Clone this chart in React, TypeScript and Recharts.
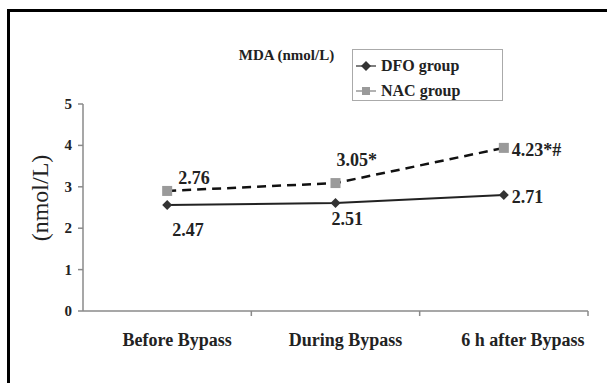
import React from 'react';
import { LineChart, Line, XAxis, YAxis, Legend } from 'recharts';

const categories = ['Before Bypass', 'During Bypass', '6 h after Bypass'];
const dfoValues = [2.56, 2.61, 2.8];
const nacValues = [2.9, 3.09, 3.94];
const dfoLabels = ['2.47', '2.51', '2.71'];
const nacLabels = ['2.76', '3.05*', '4.23*#'];
const yTicks = [0, 1, 2, 3, 4, 5];
const seriesNames = ['DFO group', 'NAC group'];
const chartTitle = 'MDA (nmol/L)';
const yAxisTitle = '(nmol/L)';

const data = categories.map((name, i) => ({ name, dfo: dfoValues[i], nac: nacValues[i] }));

const FONT = "'Liberation Serif', 'Times New Roman', Times, serif";
const AXIS = '#8a8a8a';
const DFO_COLOR = '#222';
const NAC_COLOR = '#111';
const NAC_MARK = '#9a9a9a';

const dfoOff = [[5, 31], [-4, 22], [8, 8]];
const nacOff = [[11, -7], [1, -17], [8, 8]];
const xLabelDx = [10, 10, 19];

const Diamond = ({ cx, cy, fill }: any) => (
  <path d={`M${cx},${cy - 5}L${cx + 5},${cy}L${cx},${cy + 5}L${cx - 5},${cy}Z`} fill={fill} />
);
const Square = ({ cx, cy, fill }: any) => (
  <rect x={cx - 5} y={cy - 5} width={10} height={10} fill={fill} />
);

const XTick = (props: any) => {
  const { x, y, payload, index, width, visibleTicksCount } = props;
  let off = payload && typeof payload.offset === 'number' && payload.offset > 0 ? payload.offset : 0;
  if (!off && width && visibleTicksCount) off = width / visibleTicksCount / 2;
  return (
    <g>
      <line x1={x + off} x2={x + off} y1={y} y2={y + 5} stroke={AXIS} strokeWidth={1.5} />
      <text x={x + xLabelDx[index]} y={y + 35} textAnchor="middle" style={{ fontFamily: FONT }} fontWeight="bold" fontSize={18} fill="#222">
        {payload.value}
      </text>
    </g>
  );
};

const YTick = (props: any) => {
  const { x, y, payload } = props;
  return (
    <text x={x} y={y} dy={5} textAnchor="end" style={{ fontFamily: FONT }} fontWeight="bold" fontSize={15} fill="#222">
      {payload.value}
    </text>
  );
};

const makeLabel = (labels: string[], offs: number[][]) => (props: any) => {
  const { x, y, index } = props;
  return (
    <text key={`l-${index}`} x={x + offs[index][0]} y={y + offs[index][1]} style={{ fontFamily: FONT }} fontWeight="bold" fontSize={18} fill="#222" textAnchor="start">
      {labels[index]}
    </text>
  );
};

const LegendBox = () => (
  <div style={{ position: 'relative', width: 151, height: 52, border: '1.5px solid #aaa', boxSizing: 'border-box', background: '#fff', fontFamily: FONT, fontWeight: 'bold', fontSize: 16, color: '#222' }}>
    {seriesNames.map((n, i) => (
      <div key={n} style={{ position: 'absolute', left: 3, top: 6 + i * 25, height: 20, display: 'flex', alignItems: 'center' }}>
        <svg width={20} height={12} style={{ marginRight: 5 }}>
          <line x1={0} x2={20} y1={6} y2={6} stroke={i === 0 ? '#555' : '#999'} strokeWidth={1.5} />
          {i === 0 ? <Diamond cx={10} cy={6} fill="#333" /> : <rect x={6} y={2} width={8} height={8} fill={NAC_MARK} />}
        </svg>
        <span style={{ lineHeight: '20px' }}>{n}</span>
      </div>
    ))}
  </div>
);

export default function App() {
  return (
    <div style={{ position: 'absolute', left: 0, top: 0, width: 607, height: 383, background: '#fff', overflow: 'hidden', fontFamily: FONT }}>
      <div style={{ position: 'absolute', left: 7, top: 9, width: 620, height: 400, borderTop: '3px solid #000', borderLeft: '3px solid #000' }} />
      <div style={{ position: 'absolute', left: 0, top: 0 }}>
        <LineChart width={607} height={383} data={data} margin={{ top: 104, right: 19, bottom: 0, left: 0 }} style={{ fontFamily: FONT }}>
          <XAxis
            dataKey="name"
            scale="band"
            height={72}
            axisLine={{ stroke: AXIS, strokeWidth: 1.5 }}
            tickLine={false}
            tickSize={0}
            tickMargin={0}
            tick={<XTick />}
            interval={0}
          />
          <YAxis
            width={83}
            domain={[0, 5]}
            ticks={yTicks}
            axisLine={{ stroke: AXIS, strokeWidth: 1.5 }}
            tickLine={{ stroke: AXIS, strokeWidth: 1.5 }}
            tickSize={5}
            tickMargin={6}
            tick={<YTick />}
            label={(p: any) => (
              <text x={40} y={198} transform="rotate(-90 40 198)" textAnchor="middle" dominantBaseline="central" style={{ fontFamily: FONT }} fontSize={24} fill="#222">
                {yAxisTitle}
              </text>
            )}
          />
          <Legend
            layout="horizontal"
            verticalAlign="middle"
            align="center"
            content={() => <LegendBox />}
            wrapperStyle={{ left: 352, top: 49, width: 151, height: 52 }}
          />
          <Line
            dataKey="nac"
            stroke={NAC_COLOR}
            strokeWidth={2.5}
            strokeDasharray="9 6"
            isAnimationActive={false}
            dot={(p: any) => <Square key={`s-${p.index}`} cx={p.cx} cy={p.cy} fill={NAC_MARK} />}
            label={makeLabel(nacLabels, nacOff)}
          />
          <Line
            dataKey="dfo"
            stroke={DFO_COLOR}
            strokeWidth={2}
            isAnimationActive={false}
            dot={(p: any) => <Diamond key={`d-${p.index}`} cx={p.cx} cy={p.cy} fill="#333" />}
            label={makeLabel(dfoLabels, dfoOff)}
          />
        </LineChart>
      </div>
      <div style={{ position: 'absolute', left: 0, width: 573, top: 45, textAlign: 'center', fontFamily: FONT, fontWeight: 'bold', fontSize: 15, color: '#222', lineHeight: '20px' }}>
        {chartTitle}
      </div>
    </div>
  );
}
